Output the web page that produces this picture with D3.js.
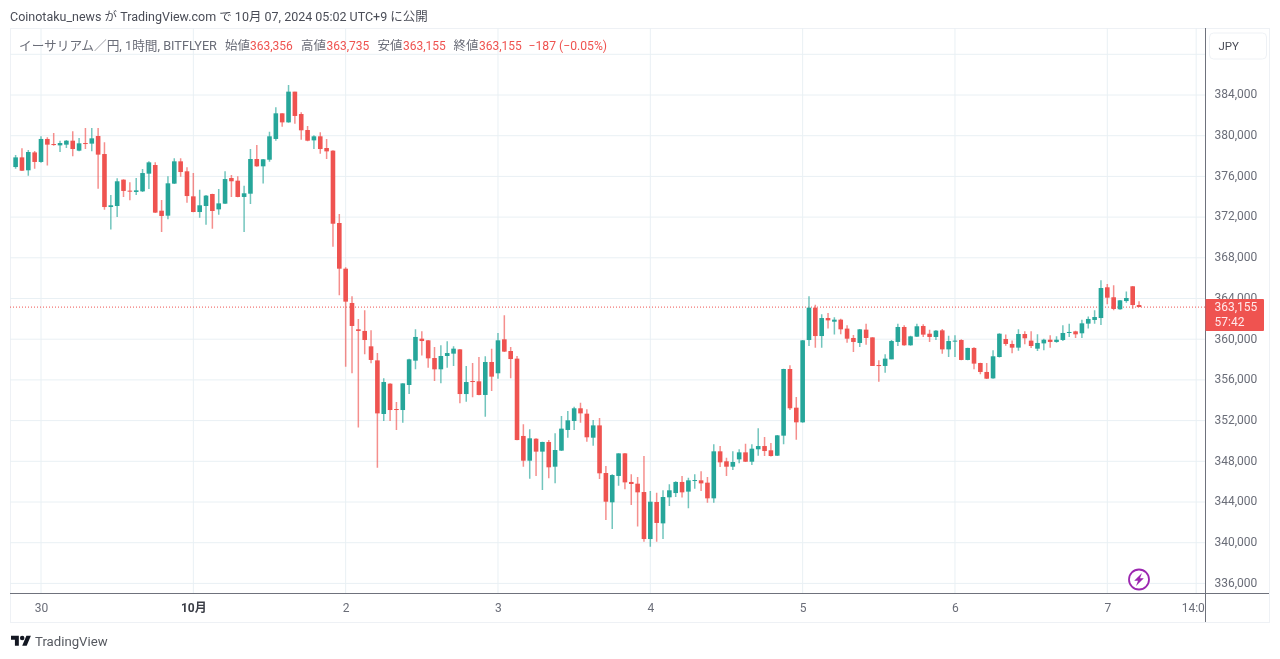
<!DOCTYPE html>
<html>
<head>
<meta charset="utf-8">
<style>
  html, body { margin: 0; background: #fff; overflow: hidden; }
  svg { display: block; font-family: Roboto, "Noto Sans CJK JP", sans-serif; filter: blur(0.35px); }
</style>
<script src="https://cdnjs.cloudflare.com/ajax/libs/d3/7.8.5/d3.min.js"></script>
</head>
<body>
<script>
// hourly candles, index 4 = 30 Sep 00:00
const opens = [
  376920, 377870, 376600, 378360, 377420, 379680, 379180, 379050, 379120, 379510,
  378530, 379280, 379220, 379970, 378200, 372990, 373090, 375680, 374600, 374470,
  374530, 376270, 377120, 372630, 372140, 375290, 377480, 376500, 374040, 372500,
  373090, 374270, 372760, 373320, 375840, 375580, 373980, 374300, 377710, 376990,
  377640, 379680, 382200, 381310, 384330, 382130, 380560, 379540, 379940, 378790,
  378530, 371420, 366930, 363560, 360970, 360810, 359300, 357920, 352650, 355630,
  353140, 353040, 355500, 357890, 360050, 359890, 358150, 357040, 358350, 358580,
  359000, 354610, 355890, 355860, 354520, 357760, 356650, 359990, 358840, 358090,
  350490, 348060, 350220, 348950, 349900, 347470, 349050, 351080, 351960, 353210,
  352680, 350320, 351530, 346850, 343970, 346560, 348780, 345970, 345800, 344980,
  340360, 344000, 341900, 344460, 344880, 345970, 345020, 346060, 346130, 345900,
  344360, 348980, 348000, 347470, 348190, 348880, 347960, 349180, 349500, 349080,
  348550, 350520, 357070, 353270, 351830, 359920, 363100, 360310, 362080, 361720,
  361920, 361040, 360120, 359630, 360940, 360180, 357460, 357370, 358020, 359730,
  361200, 359400, 360250, 361300, 360540, 360220, 360870, 359000, 359760, 359920,
  357960, 359140, 357660, 356780, 356150, 358250, 360020, 359530, 359170, 360510,
  359860, 359070, 359590, 359950, 359730, 359920, 360640, 360770, 360580, 361530,
  361890, 362080, 365100, 364120, 362940, 363750, 365200, 363356
];
const highs = [
  378100, 378760, 378590, 378500, 379940, 379840, 380270, 379510, 379580, 380430,
  379770, 380760, 380760, 380760, 379350, 374170, 375810, 375710, 375420, 375840,
  376730, 377480, 377380, 373680, 376010, 377780, 377780, 376890, 376330, 374700,
  374170, 374300, 374760, 376500, 376140, 376010, 375090, 378690, 379090, 377710,
  380400, 382790, 382200, 384980, 384330, 382300, 380950, 380040, 380330, 379680,
  378560, 372300, 367060, 364210, 361990, 362840, 360870, 358640, 356150, 355660,
  353830, 355660, 358090, 360970, 360770, 359920, 359230, 359400, 359790, 359300,
  359040, 357370, 357660, 358250, 358320, 359070, 360610, 362350, 359230, 358350,
  351630, 351140, 350260, 349930, 350090, 350750, 352450, 352940, 353370, 353760,
  353110, 352060, 352260, 347540, 346720, 348780, 348820, 346720, 346460, 348520,
  345080, 344920, 345150, 345740, 346030, 346560, 346390, 346720, 347010, 346460,
  349670, 349500, 348360, 348980, 349180, 349730, 349670, 351240, 350390, 349800,
  350580, 357100, 357430, 354320, 359920, 364210, 363390, 362440, 362580, 362150,
  362020, 361360, 360410, 361000, 361530, 360180, 357920, 358510, 359920, 361530,
  361360, 360350, 361530, 361460, 360940, 360900, 361000, 360350, 360380, 359990,
  359170, 359200, 357690, 357660, 358910, 360580, 360450, 359860, 360970, 360770,
  360770, 360480, 360050, 360380, 360280, 361360, 361530, 360840, 361920, 362220,
  362840, 365790, 365430, 365290, 363850, 364700, 365230, 363735
];
const lows = [
  376760, 376530, 376070, 376760, 377350, 377060, 379020, 378400, 378790, 377970,
  378460, 378690, 378460, 374790, 372730, 370770, 372010, 373980, 373650, 374170,
  374470, 374760, 372400, 370540, 371780, 375250, 375970, 373420, 372470, 371940,
  371260, 370860, 372240, 373290, 373980, 373940, 370540, 373290, 376960, 375290,
  377450, 379510, 380890, 381280, 381180, 379610, 379450, 378690, 378230, 377710,
  369090, 364310, 357300, 356650, 351310, 358510, 357630, 347370, 351960, 351960,
  351080, 351800, 354610, 357040, 358410, 357200, 355890, 355660, 357200, 357370,
  353700, 353860, 354290, 354480, 352390, 354910, 356120, 358740, 356150, 350060,
  347470, 346290, 346560, 345180, 346330, 345840, 349010, 350320, 351080, 351800,
  349930, 349540, 346260, 342230, 341350, 345600, 345250, 343710, 341580, 340100,
  339610, 340100, 340360, 343610, 344490, 344430, 343380, 345310, 345080, 343930,
  343930, 347440, 346560, 347150, 347800, 347930, 347640, 348550, 348520, 348460,
  348520, 349670, 353040, 350130, 351800, 359330, 359170, 359170, 361040, 360450,
  360480, 359660, 358740, 359230, 359460, 357370, 355830, 356710, 358020, 359330,
  359360, 359360, 360220, 360220, 359730, 359920, 358580, 358250, 358250, 357920,
  357920, 357040, 356550, 356090, 356120, 358190, 359360, 358610, 358870, 359500,
  359130, 358840, 358910, 359170, 359660, 359820, 360220, 360120, 360120, 361040,
  361530, 361400, 363430, 362840, 362900, 363590, 363000, 363155
];
const closes = [
  377870, 376560, 378400, 377420, 379680, 379120, 379090, 379280, 379510, 378690,
  379250, 379220, 379740, 378140, 372990, 373160, 375520, 374570, 374500, 374630,
  376330, 377380, 372440, 372110, 375320, 377480, 376430, 374070, 372500, 373160,
  374110, 372600, 373350, 375740, 375520, 373980, 374340, 377710, 376990, 377680,
  379940, 382200, 381310, 384330, 381940, 380530, 379510, 379940, 378690, 378460,
  371350, 366930, 363690, 361300, 360810, 359920, 357960, 352710, 355790, 353040,
  353040, 355660, 358020, 360220, 359820, 358120, 357040, 358350, 358640, 359070,
  354610, 355790, 355790, 354520, 357760, 356320, 359890, 358780, 358050, 350090,
  348060, 350260, 348950, 349900, 347410, 349110, 351210, 352030, 353210, 352710,
  350360, 351530, 346820, 344030, 346650, 348780, 345930, 345770, 344950, 340360,
  344030, 341940, 344490, 345150, 345970, 344950, 346130, 346160, 345830, 344360,
  348980, 347900, 347470, 347930, 348880, 347960, 349240, 349500, 349010, 348520,
  350550, 357070, 353210, 351830, 359890, 363100, 360310, 362080, 361850, 361920,
  360970, 360050, 359730, 360970, 360120, 357370, 357370, 358090, 359820, 361200,
  359400, 360280, 361270, 360450, 360220, 360840, 359000, 359820, 359860, 357960,
  359140, 357600, 356780, 356120, 358320, 360540, 359530, 359170, 360510, 360090,
  359330, 359630, 359950, 359730, 359950, 360610, 360710, 360480, 361560, 361990,
  362180, 365030, 364080, 362970, 363820, 364050, 363360, 363155
];

const priceTicks = [384000, 380000, 376000, 372000, 368000, 364000, 360000, 356000, 352000, 348000, 344000, 340000, 336000];
const gridPrices = [388000].concat(priceTicks);
const timeTicks = [4, 28, 52, 76, 100, 124, 148, 172, 186];
const timeLabels = ['30', '10月', '2', '3', '4', '5', '6', '7', '14:00'];
const lastPrice = 363155;
const countdown = '57:42';

const headerText = 'Coinotaku_news が TradingView.com で 10月 07, 2024 05:02 UTC+9 に公開';
const legendTexts = ['イーサリアム／円, 1時間, BITFLYER', '始値', '363,356', '高値', '363,735', '安値', '363,155', '終値', '363,155', '−187 (−0.05%)'];
const legendX = [19, 225, 250, 301, 326.5, 377.5, 403, 453.5, 479, 528.5];
const legendSizes = [12.7, 12.5, 12, 12.5, 12, 12.5, 12, 12.5, 12, 12.2];

const width = 1280;
const height = 659;
const plotLeft = 10;
const plotTop = 28;
const axisX = 1205.5;
const axisY = 593.5;
const frameRight = 1269;
const frameBottom = 622;

const green = '#26a69a';
const red = '#ef5350';
const gridColor = '#e9f0f4';
const axisColor = '#6f727c';
const labelColor = '#6a6d78';

const x = d3.scaleLinear().domain([4, 172]).range([41, 1107.3]);
const y = d3.scaleLinear().domain([384000, 336000]).range([95, 583.4]);

const candles = opens.map((open, i) => ({
  i, open, high: highs[i], low: lows[i], close: closes[i]
}));
const candleColor = d => d.close >= d.open ? green : red;

const svg = d3.select('body')
  .append('svg')
  .attr('width', width)
  .attr('height', height);

svg.append('clipPath').attr('id', 'plot')
  .append('rect')
  .attr('x', plotLeft)
  .attr('y', plotTop)
  .attr('width', axisX - plotLeft)
  .attr('height', frameBottom - plotTop);

// frame
svg.append('rect')
  .attr('x', plotLeft + 0.5)
  .attr('y', plotTop + 0.5)
  .attr('width', frameRight - plotLeft)
  .attr('height', frameBottom - plotTop)
  .attr('fill', 'none')
  .attr('stroke', '#eef1f5');

// grid
svg.append('g')
  .selectAll('line')
  .data(gridPrices).enter()
  .append('line')
  .attr('x1', plotLeft)
  .attr('x2', axisX)
  .attr('y1', d => y(d))
  .attr('y2', d => y(d))
  .attr('stroke', gridColor);

svg.append('g')
  .selectAll('line')
  .data(timeTicks).enter()
  .append('line')
  .attr('x1', d => x(d))
  .attr('x2', d => x(d))
  .attr('y1', plotTop)
  .attr('y2', axisY)
  .attr('stroke', gridColor);

// last price line
svg.append('line')
  .attr('x1', plotLeft)
  .attr('x2', axisX)
  .attr('y1', y(lastPrice))
  .attr('y2', y(lastPrice))
  .attr('stroke', red)
  .attr('stroke-dasharray', '1,2');

// candles
const candle = svg.append('g')
  .attr('clip-path', 'url(#plot)')
  .selectAll('g')
  .data(candles).enter()
  .append('g');

candle.append('line')
  .attr('x1', d => x(d.i))
  .attr('x2', d => x(d.i))
  .attr('y1', d => y(d.high))
  .attr('y2', d => y(d.low))
  .attr('stroke', candleColor)
  .attr('stroke-width', 1.5)
  .attr('stroke-opacity', 0.65);

candle.append('rect')
  .attr('x', d => x(d.i) - 2.3)
  .attr('width', 4.6)
  .attr('y', d => y(Math.max(d.open, d.close)))
  .attr('height', d => Math.max(1, y(Math.min(d.open, d.close)) - y(Math.max(d.open, d.close))))
  .attr('fill', candleColor);

// axes
const timeAxis = svg.append('g')
  .attr('transform', `translate(0,${axisY})`)
  .attr('clip-path', 'url(#timeClip)')
  .call(d3.axisBottom(x)
    .tickValues(timeTicks)
    .tickFormat((d, i) => timeLabels[i])
    .tickSize(0)
    .tickPadding(10));

svg.append('clipPath').attr('id', 'timeClip')
  .append('rect')
  .attr('x', plotLeft)
  .attr('y', 0)
  .attr('width', axisX - plotLeft)
  .attr('height', frameBottom - axisY);

timeAxis.select('.domain').remove();
timeAxis.selectAll('text')
  .style('font-family', 'Roboto, "Noto Sans CJK JP", sans-serif')
  .style('font-size', '12px')
  .attr('fill', labelColor);
timeAxis.selectAll('.tick')
  .filter(d => d === 28)
  .select('text')
  .attr('fill', '#3a3d46')
  .style('font-weight', 'bold');

const priceAxis = svg.append('g')
  .attr('transform', `translate(${axisX},-1)`)
  .call(d3.axisRight(y)
    .tickValues(priceTicks)
    .tickFormat(d3.format(','))
    .tickSize(0)
    .tickPadding(9));

priceAxis.select('.domain').remove();
priceAxis.selectAll('text')
  .style('font-family', 'Roboto, sans-serif')
  .style('font-size', '12px')
  .attr('fill', labelColor);

svg.append('line')
  .attr('x1', plotLeft)
  .attr('x2', frameRight)
  .attr('y1', axisY)
  .attr('y2', axisY)
  .attr('stroke', axisColor);

svg.append('line')
  .attr('x1', axisX)
  .attr('x2', axisX)
  .attr('y1', plotTop)
  .attr('y2', frameBottom)
  .attr('stroke', axisColor);

// price tag
svg.append('rect')
  .attr('x', axisX)
  .attr('y', 299)
  .attr('width', 58.5)
  .attr('height', 32)
  .attr('rx', 1)
  .attr('fill', red);

svg.append('text')
  .attr('x', axisX + 9)
  .attr('y', 311)
  .attr('font-size', 12)
  .attr('fill', '#ffe9eb')
  .text(d3.format(',')(lastPrice));

svg.append('text')
  .attr('x', axisX + 9)
  .attr('y', 326)
  .attr('font-size', 12)
  .attr('fill', '#ffe9eb')
  .text(countdown);

// currency button
svg.append('rect')
  .attr('x', 1209.5)
  .attr('y', 33)
  .attr('width', 57)
  .attr('height', 26)
  .attr('rx', 4)
  .attr('fill', '#fff')
  .attr('stroke', '#eef1f5');

svg.append('text')
  .attr('x', 1218.5)
  .attr('y', 50)
  .attr('font-size', 11.5)
  .attr('fill', '#4a4d57')
  .text('JPY');

// titles
svg.append('text')
  .attr('x', 10)
  .attr('y', 21)
  .attr('font-size', 12.5)
  .attr('fill', '#4a4d57')
  .text(headerText);

svg.append('g')
  .selectAll('text')
  .data(legendTexts).enter()
  .append('text')
  .attr('x', (d, i) => legendX[i])
  .attr('y', 50)
  .attr('font-size', (d, i) => legendSizes[i])
  .attr('fill', (d, i) => i > 0 && (i % 2 === 0 || i === 9) ? red : '#6a6d78')
  .text(d => d);

// flash icon
const flash = svg.append('g')
  .attr('transform', 'translate(1139,579.5)');

flash.append('circle')
  .attr('r', 10)
  .attr('fill', '#fff')
  .attr('stroke', '#9c27b0')
  .attr('stroke-width', 1.8);

flash.append('path')
  .attr('d', 'M3,-6.5 L-4.8,1.2 L-1,1.2 L-3,6.5 L4.8,-1.2 L1,-1.2 Z')
  .attr('fill', '#9c27b0');

// logo
const logo = svg.append('g')
  .attr('transform', 'translate(11,633.5) scale(0.56)')
  .attr('fill', '#131722');

logo.append('path')
  .attr('d', 'M14 22H7V11H0V4h14v18zM28 22h-8l7.5-18h8L28 22z');

logo.append('circle')
  .attr('cx', 20)
  .attr('cy', 8)
  .attr('r', 4);

svg.append('text')
  .attr('x', 35)
  .attr('y', 645.5)
  .attr('font-size', 13.2)
  .attr('fill', '#55585f')
  .text('TradingView');
</script>
</body>
</html>
